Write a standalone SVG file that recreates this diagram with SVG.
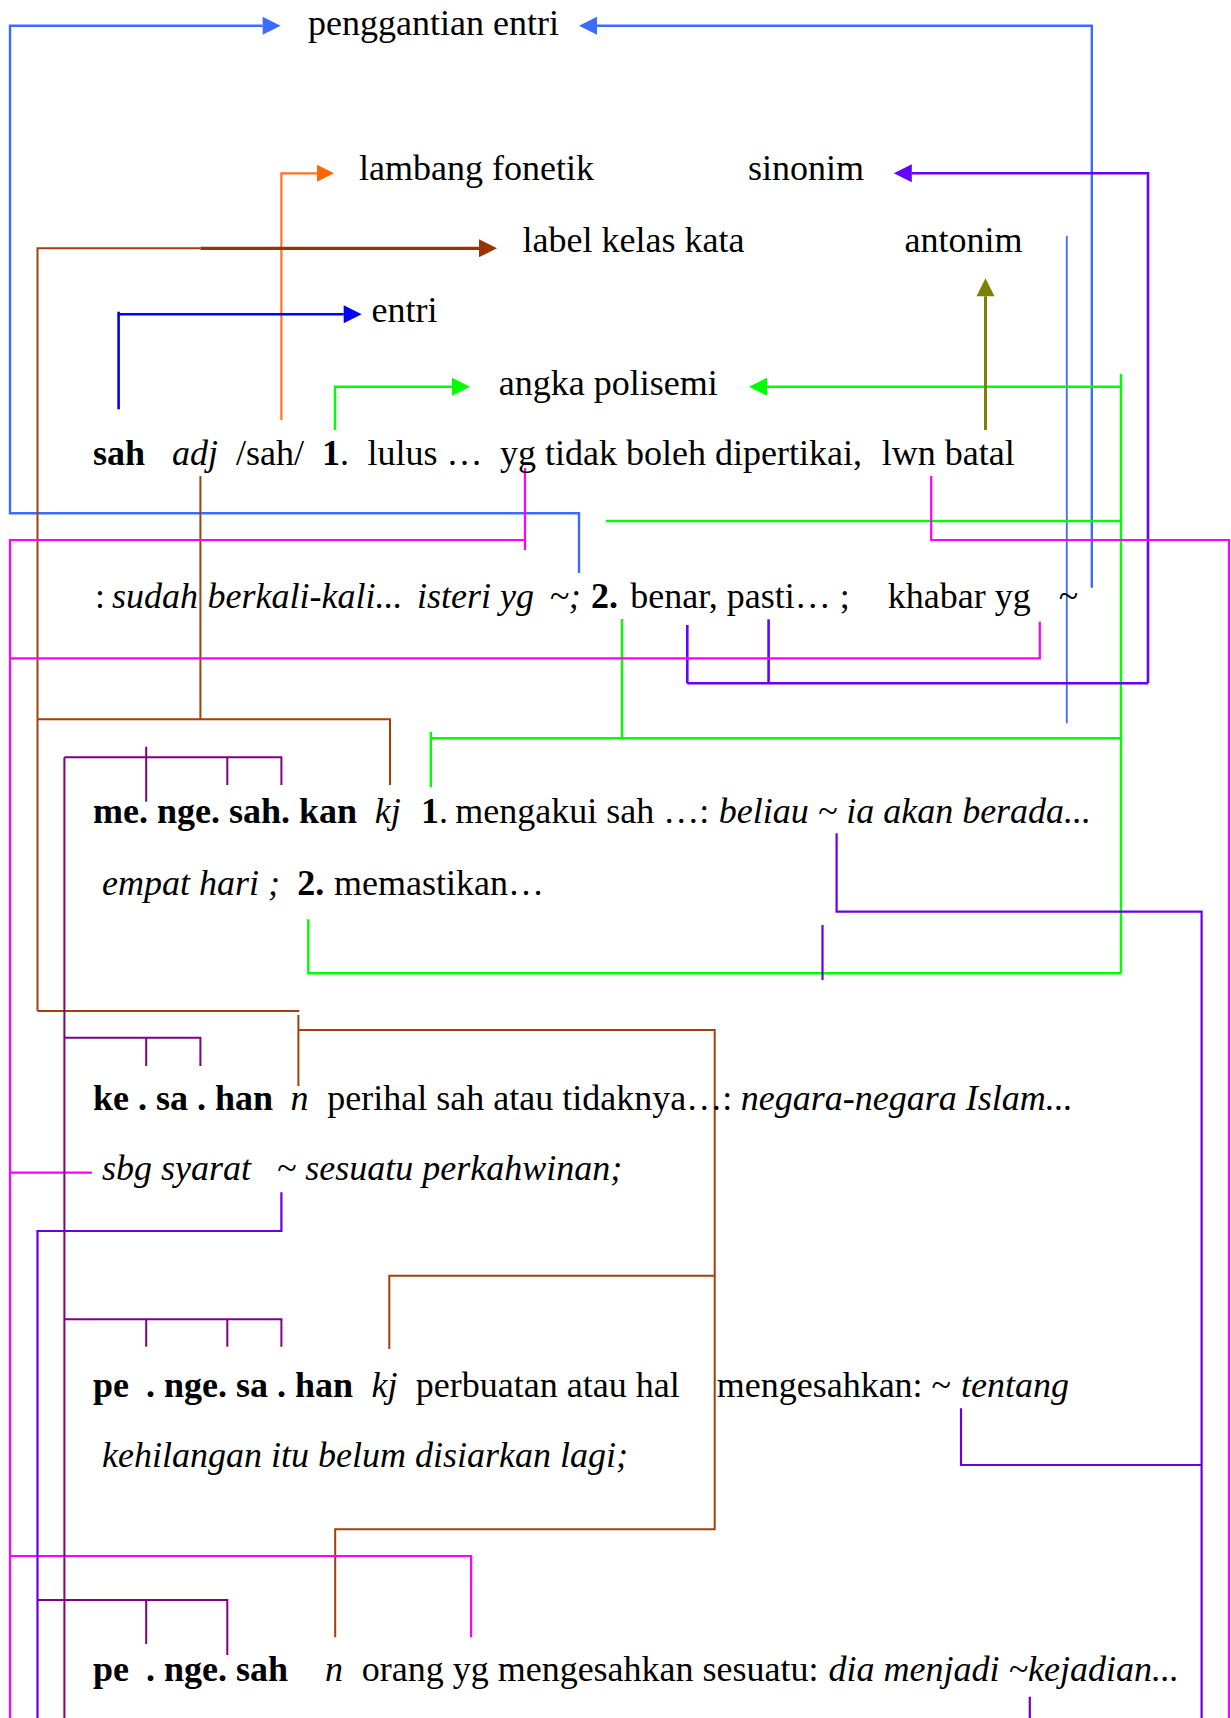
<svg xmlns="http://www.w3.org/2000/svg" width="1231" height="1718" viewBox="0 0 1231 1718">
  <defs>
    <style>
      .t { font-family: "Liberation Serif", "Times New Roman", serif; font-size: 36px; fill: #000; }
      .b { font-weight: bold; }
      .i { font-style: italic; }
      .c { fill: none; stroke-linecap: butt; stroke-linejoin: miter; }
      .blue { stroke: #3b6bff; stroke-width: 2.4; }
      .blue-thin { stroke: #3b6bff; stroke-width: 1.8; }
      .pblue { stroke: #0000ff; stroke-width: 2.6; }
      .orange { stroke: #ff7420; stroke-width: 2.2; }
      .brown { stroke: #a0400c; stroke-width: 2; }
      .brown-thick { stroke: #993300; stroke-width: 3.2; }
      .green { stroke: #00ff00; stroke-width: 2.4; }
      .olive { stroke: #808000; stroke-width: 3; }
      .violet { stroke: #6600ff; stroke-width: 2.6; }
      .violet2 { stroke: #6a00e0; stroke-width: 2.2; }
      .magenta { stroke: #ff00ff; stroke-width: 2.2; }
      .plum { stroke: #800080; stroke-width: 2; }
    </style>
    <marker id="a-blue" markerUnits="userSpaceOnUse" markerWidth="18" markerHeight="18" refX="0" refY="9" orient="auto" overflow="visible">
      <path d="M0,0 L18,9 L0,18 Z" fill="#3b6bff"/>
    </marker>
    <marker id="a-pblue" markerUnits="userSpaceOnUse" markerWidth="18" markerHeight="18" refX="0" refY="9" orient="auto" overflow="visible">
      <path d="M0,0 L18,9 L0,18 Z" fill="#0000ff"/>
    </marker>
    <marker id="a-orange" markerUnits="userSpaceOnUse" markerWidth="18" markerHeight="18" refX="0" refY="9" orient="auto" overflow="visible">
      <path d="M0,0.5 L17,9 L0,17.5 Z" fill="#ff6600"/>
    </marker>
    <marker id="a-brown" markerUnits="userSpaceOnUse" markerWidth="18" markerHeight="18" refX="0" refY="9" orient="auto" overflow="visible">
      <path d="M0,0 L18,9 L0,18 Z" fill="#993300"/>
    </marker>
    <marker id="a-green" markerUnits="userSpaceOnUse" markerWidth="18" markerHeight="18" refX="0" refY="9" orient="auto" overflow="visible">
      <path d="M0,0 L18,9 L0,18 Z" fill="#00ff00"/>
    </marker>
    <marker id="a-olive" markerUnits="userSpaceOnUse" markerWidth="18" markerHeight="18" refX="0" refY="9" orient="auto" overflow="visible">
      <path d="M0,0 L18,9 L0,18 Z" fill="#808000"/>
    </marker>
    <marker id="a-violet" markerUnits="userSpaceOnUse" markerWidth="18" markerHeight="18" refX="0" refY="9" orient="auto" overflow="visible">
      <path d="M0,0 L18,9 L0,18 Z" fill="#6600ff"/>
    </marker>
  </defs>

  <rect width="1231" height="1718" fill="#ffffff"/>

  <!-- connectors -->
  <g id="connectors">
    <!-- replacement entry (blue) -->
    <path class="c blue" d="M579,573 V513.3 H10 V25.7 H262.6" marker-end="url(#a-blue)"/>
    <path class="c blue" d="M1091.8,587.7 V25.7 H597" marker-end="url(#a-blue)"/>
    <path class="c blue-thin" d="M1066.8,235.7 V723.3"/>

    <!-- phonetic symbol (orange) -->
    <path class="c orange" d="M281.4,420 V173.3 H317" marker-end="url(#a-orange)"/>

    <!-- word class label (brown) -->
    <path class="c brown" d="M37.5,1011 V248.3 H200.4"/>
    <path class="c brown-thick" d="M200.4,248.3 H479" marker-end="url(#a-brown)"/>
    <path class="c brown" d="M200.4,476 V719.3"/>
    <path class="c brown" d="M37.5,719.3 H390 V785"/>
    <path class="c brown" d="M37.5,1011 H299.2"/>
    <path class="c brown" d="M298.4,1086 V1015"/>
    <path class="c brown" d="M298.4,1030 H714.7 V1529.3 H335.2 V1637.3"/>
    <path class="c brown" d="M389.3,1349 V1275.7 H714.7"/>

    <!-- entry (pure blue) -->
    <path class="c pblue" d="M118.6,409.3 V311.7"/>
    <path class="c pblue" d="M118.6,314.3 H343.7" marker-end="url(#a-pblue)"/>

    <!-- polysemy numbers (green) -->
    <path class="c green" d="M335,430 V386.7 H452" marker-end="url(#a-green)"/>
    <path class="c green" d="M1121,374 V973.3"/>
    <path class="c green" d="M1121,386.7 H767" marker-end="url(#a-green)"/>
    <path class="c green" d="M606,521 H1121"/>
    <path class="c green" d="M622,619 V738.3"/>
    <path class="c green" d="M430.8,738.3 H1121"/>
    <path class="c green" d="M430.8,732 V787.3"/>
    <path class="c green" d="M308.3,919.3 V973.3 H1121"/>

    <!-- antonym (olive) -->
    <path class="c olive" d="M985.5,430 V296.3" marker-end="url(#a-olive)"/>

    <!-- synonym (violet) -->
    <path class="c violet" d="M1148,683.3 V173.3 H911.8" marker-end="url(#a-violet)"/>
    <path class="c violet" d="M687.3,683.3 H1148"/>
    <path class="c violet" d="M687.3,625 V683.3"/>
    <path class="c violet" d="M768.6,619.3 V683.3"/>

    <!-- tilde links (magenta) -->
    <path class="c magenta" d="M525,468 V550"/>
    <path class="c magenta" d="M525,540 H10 V1718"/>
    <path class="c magenta" d="M931.2,476 V540 H1229 V1718"/>
    <path class="c magenta" d="M1039.8,621.7 V658.3 H10"/>
    <path class="c magenta" d="M10,1172.7 H92"/>
    <path class="c magenta" d="M10,1556 H471.1 V1637.3"/>

    <!-- syllable brackets (plum) -->
    <path class="c plum" d="M64.4,757.3 V1718"/>
    <path class="c plum" d="M64.4,757.3 H281.4 V785"/>
    <path class="c plum" d="M146.2,746.7 V801.7"/>
    <path class="c plum" d="M227.3,757.3 V785"/>
    <path class="c plum" d="M64.4,1037.7 H200.4 V1066"/>
    <path class="c plum" d="M146.2,1037.7 V1066"/>
    <path class="c plum" d="M64.4,1319.3 H281.4 V1346.7"/>
    <path class="c plum" d="M146.2,1319.3 V1346.7"/>
    <path class="c plum" d="M227.3,1319.3 V1346.7"/>
    <path class="c plum" d="M37.5,1600 H227.3 V1655"/>
    <path class="c plum" d="M146.2,1600 V1644"/>

    <!-- derived-form tilde links (violet) -->
    <path class="c violet2" d="M281.4,1192.3 V1231 H37.5 V1718"/>
    <path class="c violet2" d="M836.6,833.3 V911.7 H1201.6 V1718"/>
    <path class="c violet2" d="M822.5,925 V980"/>
    <path class="c violet2" d="M961,1408.3 V1465 H1201.6"/>
    <path class="c violet2" d="M1029.8,1696.7 V1718"/>
  </g>

  <!-- labels -->
  <g id="label-penggantian-entri"><text class="t" x="308" y="35">penggantian entri</text></g>
  <g id="label-lambang-fonetik"><text class="t" x="359" y="180">lambang fonetik</text></g>
  <g id="label-sinonim"><text class="t" x="748" y="180">sinonim</text></g>
  <g id="label-kelas-kata"><text class="t" x="522.5" y="252">label kelas kata</text></g>
  <g id="label-antonim"><text class="t" x="904.6" y="252">antonim</text></g>
  <g id="label-entri"><text class="t" x="371.5" y="322">entri</text></g>
  <g id="label-angka-polisemi"><text class="t" x="498.8" y="395">angka polisemi</text></g>

  <!-- entry: sah -->
  <g id="entry-sah">
    <text class="t" y="465">
      <tspan class="b" x="93">sah</tspan>
      <tspan class="i" x="172">adj</tspan>
      <tspan x="236">/sah/</tspan>
      <tspan class="b" x="322">1</tspan><tspan>.</tspan>
      <tspan x="367.6">lulus …</tspan>
      <tspan x="500">yg tidak boleh dipertikai,</tspan>
      <tspan x="881.7">lwn batal</tspan>
    </text>
    <text class="t" y="608">
      <tspan x="95">:</tspan>
      <tspan class="i" x="112">sudah</tspan>
      <tspan class="i" x="207.5">berkali-kali...</tspan>
      <tspan class="i" x="417">isteri yg</tspan>
      <tspan class="i" x="549.4">~;</tspan>
      <tspan class="b" x="591">2.</tspan>
      <tspan x="630.2">benar, pasti… ;</tspan>
      <tspan x="887.7">khabar yg</tspan>
      <tspan x="1058.7">~</tspan>
    </text>
  </g>

  <!-- entry: mengesahkan -->
  <g id="entry-mengesahkan">
    <text class="t" y="823">
      <tspan class="b" x="93">me. nge. sah. kan</tspan>
      <tspan class="i" x="374.7">kj</tspan>
      <tspan class="b" x="421">1</tspan><tspan>.</tspan>
      <tspan x="455.3">mengakui sah …:</tspan>
      <tspan class="i" x="718.7">beliau ~ ia akan berada...</tspan>
    </text>
    <text class="t" y="895">
      <tspan class="i" x="102">empat hari ;</tspan>
      <tspan class="b" x="297.2">2.</tspan>
      <tspan x="334">memastikan…</tspan>
    </text>
  </g>

  <!-- entry: kesahan -->
  <g id="entry-kesahan">
    <text class="t" y="1110">
      <tspan class="b" x="93">ke . sa . han</tspan>
      <tspan class="i" x="290.5">n</tspan>
      <tspan x="327.3">perihal sah atau tidaknya…:</tspan>
      <tspan class="i" x="740.8">negara-negara Islam...</tspan>
    </text>
    <text class="t" y="1180">
      <tspan class="i" x="102">sbg syarat</tspan>
      <tspan class="i" x="276.7">~ sesuatu perkahwinan;</tspan>
    </text>
  </g>

  <!-- entry: pengesahan -->
  <g id="entry-pengesahan">
    <text class="t" y="1397">
      <tspan class="b" x="93">pe</tspan>
      <tspan class="b" x="146">. nge. sa . han</tspan>
      <tspan class="i" x="371.5">kj</tspan>
      <tspan x="415.8">perbuatan atau hal</tspan>
      <tspan x="716.7">mengesahkan: ~</tspan>
      <tspan class="i" x="961">tentang</tspan>
    </text>
    <text class="t" y="1467">
      <tspan class="i" x="102">kehilangan itu belum disiarkan lagi;</tspan>
    </text>
  </g>

  <!-- entry: pengesah -->
  <g id="entry-pengesah">
    <text class="t" y="1681">
      <tspan class="b" x="93">pe</tspan>
      <tspan class="b" x="146">. nge. sah</tspan>
      <tspan class="i" x="325">n</tspan>
      <tspan x="361.7">orang yg mengesahkan sesuatu:</tspan>
      <tspan class="i" x="828.6">dia menjadi ~kejadian...</tspan>
    </text>
  </g>
</svg>
